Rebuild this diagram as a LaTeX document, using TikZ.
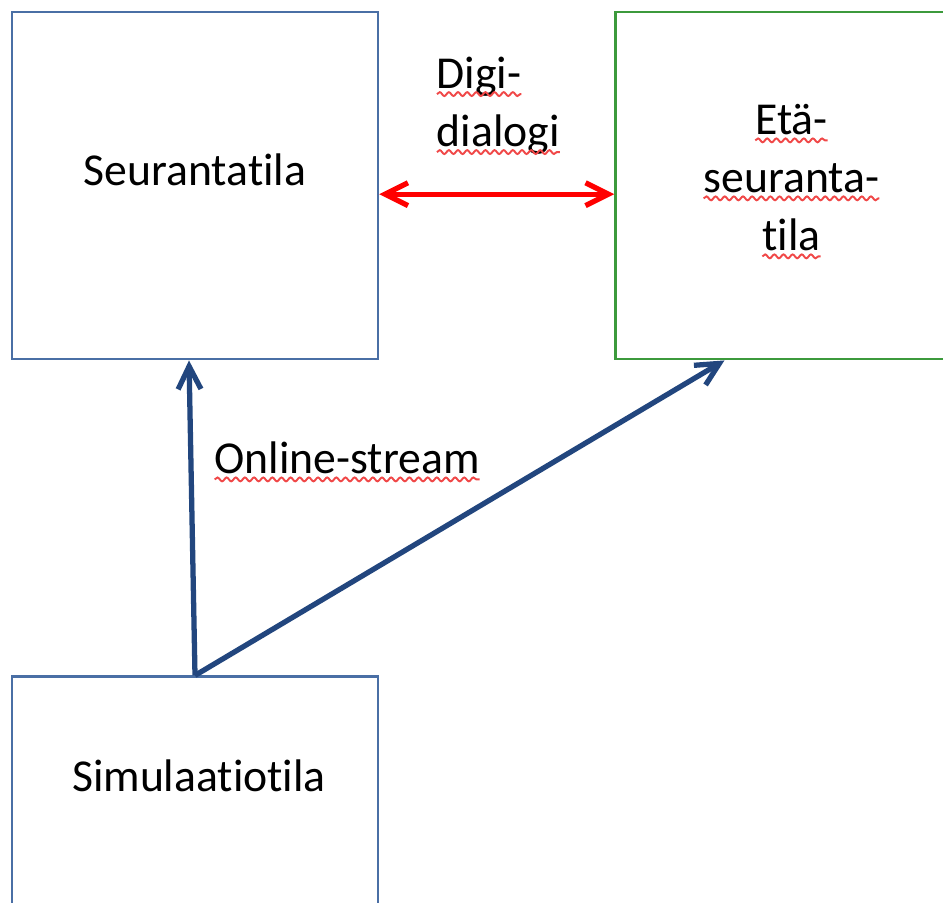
\documentclass[tikz,border=0pt]{standalone}
\usepackage{fontspec}
\setmainfont{Carlito}[Ligatures=NoCommon]
\usetikzlibrary{arrows.meta, positioning, calc, decorations.pathmorphing}
\definecolor{roomblue}{HTML}{4A6FA5}
\definecolor{roomgreen}{HTML}{3C9A3C}
\definecolor{streamblue}{HTML}{22467E}
\definecolor{dialred}{HTML}{FF0000}
\definecolor{squigred}{HTML}{F04848}
\tikzset{
    roomdiagram/.style={font=\fontsize{13}{16.5}\selectfont},
    room/.style={draw=roomblue, line width=0.7pt, minimum width=3.66cm, minimum height=3.47cm, inner sep=0pt},
    remoteroom/.style={room, draw=roomgreen, minimum width=3.52cm},
    roomlabel/.style={align=center, inner sep=0pt},
    % open arrow heads as in the slide
    stream/.style={draw=streamblue, line width=1.5pt, -{Straight Barb[length=6.5pt, width=6.5pt]}},
    dialogue/.style={draw=dialred, line width=1.5pt, {Straight Barb[length=6.5pt, width=6.5pt]}-{Straight Barb[length=6.5pt, width=6.5pt]}},
    squig/.style={draw=squigred, line width=0.55pt, decorate, decoration={snake, amplitude=0.55pt, segment length=2.6pt}},
}
% word with the spell-check underline
\newcommand{\misspelt}[1]{\tikz[baseline=(w.base)]{\node[inner sep=0pt, outer sep=0pt] (w) {#1}; \draw[squig] ([yshift=-1.7pt]w.base west) -- ([yshift=-1.7pt]w.base east);}}

\begin{document}
\begin{tikzpicture}[roomdiagram]
    \useasboundingbox (0,0) rectangle (9.43,-9.03);
    \clip (0,0) rectangle (9.43,-9.03);

    \node[room]                          (seur) at (1.95,-1.857) {};
    \node[remoteroom, right=2.35cm of seur] (eta) {};
    \node[room, below=3.15cm of seur]    (sim)  {};

    \node[roomlabel, anchor=base] (seurtxt) at (seur.center) {Seurantatila};
    \node[roomlabel] (etatxt) at ([yshift=0.04cm]eta.center) {\misspelt{Etä-}\\ \misspelt{seuranta-}\\ \misspelt{tila}};
    \node[roomlabel, anchor=base] (simtxt) at ([xshift=0.04cm, yshift=-1.16cm]sim.north) {Simulaatiotila};

    \node[roomlabel, align=left, below right=0.45cm and 0.56cm of seur.north east] (digi) {\misspelt{Digi-}\\ \misspelt{dialogi}};
    \node[roomlabel, anchor=base west] (online) at ([xshift=0.18cm, yshift=-1.13cm]seur.south) {\misspelt{Online-stream}};

    \draw[dialogue] ([yshift=-0.085cm]seur.east) -- ([yshift=-0.085cm]eta.west);
    \draw[stream] (sim.north) -- ([xshift=-0.06cm]seur.south);
    \draw[stream] (sim.north) -- ([xshift=-0.67cm]eta.south);
\end{tikzpicture}
\end{document}
